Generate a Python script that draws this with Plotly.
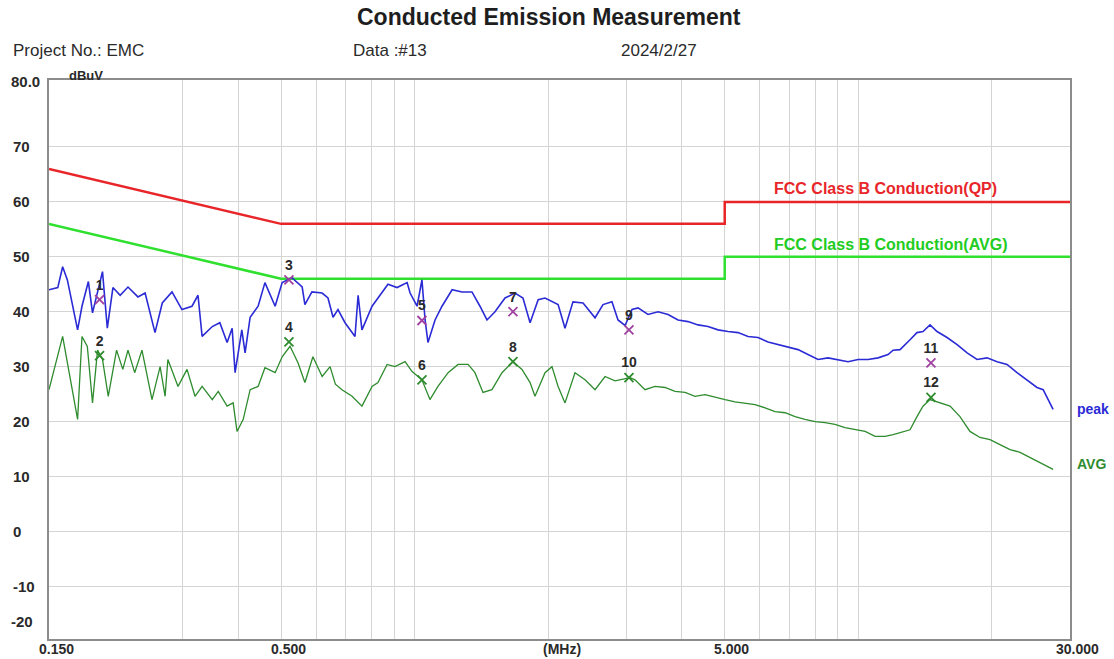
import plotly.graph_objects as go
import numpy as np

# ---- data (MHz, dBuV) ----
peak_freq = [0.150, 0.157, 0.161, 0.165, 0.174, 0.178, 0.184, 0.188, 0.198, 0.203,
             0.209, 0.217, 0.226, 0.238, 0.247, 0.260, 0.270, 0.284, 0.299, 0.315,
             0.325, 0.332, 0.350, 0.364, 0.378, 0.388, 0.394, 0.408, 0.415, 0.426,
             0.444, 0.460, 0.485, 0.503, 0.529, 0.558, 0.566, 0.587, 0.619, 0.638,
             0.655, 0.672, 0.697, 0.734, 0.746, 0.761, 0.802, 0.845, 0.871, 0.913,
             0.962, 0.977, 1.013, 1.039, 1.056, 1.072, 1.112, 1.153, 1.215, 1.279,
             1.347, 1.404, 1.456, 1.518, 1.599, 1.684, 1.755, 1.821, 1.899, 1.968,
             2.106, 2.183, 2.275, 2.397, 2.551, 2.659, 2.785, 2.874, 2.981, 3.091,
             3.189, 3.358, 3.538, 3.726, 3.924, 4.133, 4.353, 4.585, 4.829, 5.086,
             5.358, 5.643, 5.943, 6.260, 6.593, 6.944, 7.314, 7.703, 8.115, 8.547,
             9.001, 9.483, 9.987, 10.52, 11.08, 11.67, 11.98, 12.42, 13.08, 13.56,
             13.99, 14.51, 15.05, 15.85, 16.70, 17.59, 18.52, 19.51, 20.55, 21.64,
             22.79, 24.00, 25.28, 26.10, 26.78, 27.48]
peak_vals = [44.0, 44.4, 48.2, 45.8, 36.7, 41.0, 45.5, 39.8, 47.3, 37.0,
             44.4, 43.0, 44.5, 42.7, 43.4, 36.2, 41.6, 43.6, 40.4, 41.0,
             43.0, 35.5, 37.3, 38.0, 34.4, 37.0, 28.9, 36.7, 32.5, 39.0,
             41.0, 45.3, 41.0, 45.3, 46.2, 44.5, 41.3, 43.6, 43.4, 42.5,
             39.0, 40.4, 38.0, 35.5, 43.0, 36.7, 41.0, 43.6, 45.0, 44.4,
             45.3, 43.4, 41.0, 45.8, 38.5, 34.4, 38.5, 41.0, 44.0, 43.6,
             43.6, 41.0, 38.5, 40.0, 42.5, 43.4, 42.5, 38.0, 42.2, 42.5,
             41.3, 37.0, 41.8, 41.6, 38.9, 41.3, 41.8, 38.5, 37.5, 40.4,
             40.7, 39.5, 40.0, 39.5, 38.5, 38.2, 37.6, 37.3, 36.7, 36.4,
             36.2, 35.5, 35.3, 34.5, 34.0, 33.6, 33.1, 32.2, 31.3, 31.6,
             31.3, 30.9, 31.3, 31.3, 31.6, 32.2, 33.0, 33.1, 34.9, 36.2,
             36.4, 37.6, 36.4, 35.3, 34.0, 32.5, 31.3, 31.6, 30.9, 30.4,
             28.9, 27.6, 26.2, 25.8, 24.0, 22.2]

avg_freq = [0.150, 0.161, 0.174, 0.178, 0.183, 0.188, 0.193, 0.198, 0.204, 0.213,
            0.220, 0.226, 0.234, 0.243, 0.256, 0.267, 0.274, 0.278, 0.293, 0.307,
            0.320, 0.332, 0.350, 0.361, 0.378, 0.390, 0.398, 0.411, 0.426, 0.444,
            0.460, 0.485, 0.503, 0.524, 0.546, 0.566, 0.590, 0.619, 0.645, 0.663,
            0.686, 0.723, 0.761, 0.802, 0.827, 0.867, 0.903, 0.952, 0.987, 1.039,
            1.083, 1.129, 1.190, 1.253, 1.320, 1.368, 1.426, 1.494, 1.574, 1.666,
            1.746, 1.821, 1.868, 1.968, 2.040, 2.106, 2.183, 2.299, 2.422, 2.551,
            2.687, 2.830, 3.058, 3.139, 3.306, 3.482, 3.668, 3.864, 4.069, 4.286,
            4.515, 4.755, 5.009, 5.276, 5.557, 5.853, 6.165, 6.494, 6.840, 7.203,
            7.586, 7.991, 8.416, 8.864, 9.335, 9.831, 10.36, 10.91, 11.49, 11.98,
            13.08, 13.56, 13.99, 14.51, 15.29, 16.10, 16.95, 17.85, 18.80, 19.81,
            20.86, 21.98, 23.15, 24.39, 25.68, 27.05, 27.48]
avg_vals = [25.8, 35.5, 20.4, 35.5, 33.7, 23.4, 33.0, 31.3, 24.6, 33.0,
            29.5, 33.0, 28.9, 33.0, 24.0, 30.0, 24.6, 31.3, 26.4, 29.5,
            24.6, 26.4, 24.0, 25.5, 22.8, 23.4, 18.2, 20.4, 25.8, 26.4,
            29.8, 28.9, 31.8, 33.7, 30.7, 27.1, 31.8, 28.2, 30.0, 26.8,
            25.8, 24.6, 22.8, 26.4, 27.1, 30.4, 30.0, 30.9, 29.1, 27.6,
            24.0, 26.4, 28.9, 30.4, 30.4, 28.9, 25.3, 25.8, 28.9, 30.9,
            29.5, 27.1, 24.6, 28.9, 30.0, 26.4, 23.4, 28.9, 27.6, 25.8,
            28.2, 27.4, 28.0, 27.6, 25.8, 26.4, 26.2, 25.5, 25.3, 24.6,
            24.9, 24.4, 24.0, 23.6, 23.4, 23.1, 22.5, 21.8, 21.6, 20.9,
            20.4, 20.0, 19.8, 19.5, 18.9, 18.5, 18.2, 17.3, 17.3, 17.6,
            18.5, 20.9, 22.8, 24.0, 23.4, 22.8, 20.9, 18.2, 17.1, 16.7,
            15.8, 14.9, 14.4, 13.5, 12.5, 11.6, 11.3]

qp_limit_freq = [0.15, 0.5, 5.0, 5.0, 30.0]
qp_limit_vals = [66, 56, 56, 60, 60]
avg_limit_freq = [0.15, 0.5, 5.0, 5.0, 30.0]
avg_limit_vals = [56, 46, 46, 50, 50]

pk_mark_no = ["1", "3", "5", "7", "9", "11"]
pk_mark_freq = [0.195, 0.521, 1.039, 1.666, 3.042, 14.58]
pk_mark_vals = [42.2, 45.8, 38.4, 40.0, 36.7, 30.7]
av_mark_no = ["2", "4", "6", "8", "10", "12"]
av_mark_freq = [0.195, 0.521, 1.039, 1.666, 3.042, 14.58]
av_mark_vals = [32.0, 34.5, 27.6, 30.9, 28.0, 24.4]

x_grid = [0.3, 0.4, 0.5, 0.6, 0.7, 0.8, 0.9, 1, 2, 3, 4, 5, 6, 7, 8, 9, 10, 20]
y_grid = [70, 60, 50, 40, 30, 20, 10, 0, -10]
y_labels = ["70", "60", "50", "40", "30", "20", "10", "0", "-10"]
x_label_freq = [0.15, 0.5, 2.07, 5.0, 30.0]
x_label_text = ["0.150", "0.500", "(MHz)", "5.000", "30.000"]

FONT = "Liberation Sans"
RED = "#e8262a"
LGREEN = "#2fe02f"
BLUE = "#2b2bd6"
DGREEN = "#2e8b2e"
TXT = "#2a2a2a"

W, H = 1114, 659
ML, MR, MT, MB = 49, 44, 80, 20
plot_w = W - ML - MR
plot_h = H - MT - MB


def px(xp):
    return (xp - ML) / plot_w


def py(yp):
    return (H - MB - yp) / plot_h


fig = go.Figure()
fig.add_trace(go.Scatter(x=qp_limit_freq, y=qp_limit_vals, mode="lines",
                         line=dict(color=RED, width=2.5), hoverinfo="skip"))
fig.add_trace(go.Scatter(x=avg_limit_freq, y=avg_limit_vals, mode="lines",
                         line=dict(color=LGREEN, width=2.5), hoverinfo="skip"))
fig.add_trace(go.Scatter(x=peak_freq, y=peak_vals, mode="lines",
                         line=dict(color=BLUE, width=1.6)))
fig.add_trace(go.Scatter(x=avg_freq, y=avg_vals, mode="lines",
                         line=dict(color=DGREEN, width=1.3)))
fig.add_trace(go.Scatter(x=pk_mark_freq, y=pk_mark_vals, mode="markers+text",
                         text=pk_mark_no, textposition="top center",
                         textfont=dict(family=FONT, size=14, color=TXT, weight="bold"),
                         marker=dict(symbol="x-thin", size=9,
                                     line=dict(color="#a040a0", width=1.8))))
fig.add_trace(go.Scatter(x=av_mark_freq, y=av_mark_vals, mode="markers+text",
                         text=av_mark_no, textposition="top center",
                         textfont=dict(family=FONT, size=14, color=TXT, weight="bold"),
                         marker=dict(symbol="x-thin", size=9,
                                     line=dict(color=DGREEN, width=1.8))))

ann = []
for v, t in zip(y_grid, y_labels):
    ann.append(dict(x=px(11), y=v, xref="paper", yref="y", text="<b>%s</b>" % t, showarrow=False,
                    xanchor="left", yanchor="middle",
                    font=dict(family=FONT, size=15, color=TXT)))
ann.append(dict(x=px(9), y=82.0, xref="paper", yref="y", text="<b>80.0</b>", showarrow=False,
                xanchor="left", yanchor="middle", font=dict(family=FONT, size=15, color=TXT)))
ann.append(dict(x=px(9), y=-16.5, xref="paper", yref="y", text="<b>-20</b>", showarrow=False,
                xanchor="left", yanchor="middle", font=dict(family=FONT, size=15, color=TXT)))
for f, t in zip(x_label_freq, x_label_text):
    ann.append(dict(x=np.log10(f), y=0, xref="x", yref="paper", text="<b>%s</b>" % t, showarrow=False,
                    xanchor="center", yanchor="top", xshift=7, yshift=0,
                    font=dict(family=FONT, size=14, color=TXT)))
ann.append(dict(x=px(67), y=py(75), xref="paper", yref="paper", text="<b>dBuV</b>",
                showarrow=False, xanchor="left", yanchor="middle",
                font=dict(family=FONT, size=13, color=TXT)))
ann.append(dict(x=px(772), y=py(188), xref="paper", yref="paper", text="<b>FCC Class B Conduction(QP)</b>",
                showarrow=False, xanchor="left", yanchor="middle",
                font=dict(family=FONT, size=16, color=RED)))
ann.append(dict(x=px(772), y=py(244), xref="paper", yref="paper", text="<b>FCC Class B Conduction(AVG)</b>",
                showarrow=False, xanchor="left", yanchor="middle",
                font=dict(family=FONT, size=16, color="#22cc22")))
ann.append(dict(x=px(1075), y=22.2, xref="paper", yref="y", text="<b>peak</b>", showarrow=False,
                xanchor="left", yanchor="middle",
                font=dict(family=FONT, size=14, color=BLUE)))
ann.append(dict(x=px(1075), y=12.2, xref="paper", yref="y", text="<b>AVG</b>", showarrow=False,
                xanchor="left", yanchor="middle",
                font=dict(family=FONT, size=14, color=DGREEN)))
# header
ann.append(dict(x=px(549), y=py(17), xref="paper", yref="paper",
                text="<b>Conducted Emission Measurement</b>", showarrow=False,
                xanchor="center", yanchor="middle", font=dict(family=FONT, size=23, color="#1e1e1e")))
ann.append(dict(x=px(11), y=py(50), xref="paper", yref="paper", text="Project No.: EMC",
                showarrow=False, xanchor="left", yanchor="middle", font=dict(family=FONT, size=17, color=TXT)))
ann.append(dict(x=px(351), y=py(50), xref="paper", yref="paper", text="Data :#13",
                showarrow=False, xanchor="left", yanchor="middle", font=dict(family=FONT, size=17, color=TXT)))
ann.append(dict(x=px(619), y=py(50), xref="paper", yref="paper", text="2024/2/27",
                showarrow=False, xanchor="left", yanchor="middle", font=dict(family=FONT, size=17, color=TXT)))

fig.update_layout(
    width=W, height=H,
    margin=dict(l=ML, r=MR, t=MT, b=MB),
    paper_bgcolor="white", plot_bgcolor="white",
    showlegend=False,
    annotations=ann,
    xaxis=dict(type="log", range=[np.log10(0.15), np.log10(30)], tickvals=x_grid,
               showticklabels=False, ticks="", showgrid=True, gridcolor="#d4d4d4", gridwidth=1,
               showline=True, linecolor="#8c8c8c", linewidth=2, mirror=True, zeroline=False),
    yaxis=dict(range=[-19.6, 82.2], tickvals=y_grid, showticklabels=False, ticks="",
               showgrid=True, gridcolor="#d4d4d4", gridwidth=1, zeroline=False,
               showline=True, linecolor="#8c8c8c", linewidth=2, mirror=True),
)

fig.write_html("out.html", config={"displayModeBar": False},
               post_script="document.body.style.margin='0px';document.body.style.overflow='hidden';")
